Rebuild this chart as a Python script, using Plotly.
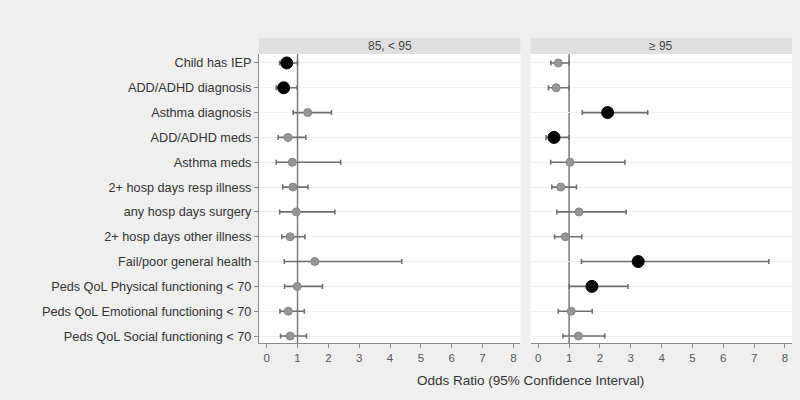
import plotly.graph_objects as go

outcomes = [
    "Child has IEP", "ADD/ADHD diagnosis", "Asthma diagnosis", "ADD/ADHD meds",
    "Asthma meds", "2+ hosp days resp illness", "any hosp days surgery",
    "2+ hosp days other illness", "Fail/poor general health",
    "Peds QoL Physical functioning < 70", "Peds QoL Emotional functioning < 70",
    "Peds QoL Social functioning < 70",
]

# Panel 1: 85, < 95
or_mid = [0.65, 0.55, 1.33, 0.69, 0.83, 0.85, 0.96, 0.76, 1.56, 0.99, 0.70, 0.76]
lo_mid = [0.42, 0.31, 0.86, 0.37, 0.31, 0.52, 0.42, 0.49, 0.57, 0.58, 0.43, 0.45]
hi_mid = [1.00, 0.99, 2.10, 1.27, 2.40, 1.34, 2.21, 1.24, 4.38, 1.81, 1.22, 1.29]
sig_mid = [1, 1, 0, 0, 0, 0, 0, 0, 0, 0, 0, 0]

# Panel 2: >= 95
or_hi = [0.65, 0.58, 2.25, 0.51, 1.03, 0.73, 1.32, 0.88, 3.24, 1.74, 1.07, 1.30]
lo_hi = [0.41, 0.33, 1.43, 0.25, 0.40, 0.44, 0.60, 0.53, 1.40, 1.00, 0.65, 0.80]
hi_hi = [1.00, 1.00, 3.55, 1.00, 2.81, 1.24, 2.85, 1.41, 7.48, 2.91, 1.75, 2.16]
sig_hi = [0, 0, 1, 1, 0, 0, 0, 0, 1, 1, 0, 0]

panel_titles = ["85, < 95", "\u2265 95"]
x_ticks = [0, 1, 2, 3, 4, 5, 6, 7, 8]

FONT = "Liberation Sans, Arial, sans-serif"
fig = go.Figure()

panels = [(or_mid, lo_mid, hi_mid, sig_mid, "x", "y"),
          (or_hi, lo_hi, hi_hi, sig_hi, "x2", "y2")]
for ors, los, his, sigs, xa, ya in panels:
    fig.add_trace(go.Scatter(
        x=ors, y=outcomes, mode="markers", xaxis=xa, yaxis=ya,
        error_x=dict(type="data", symmetric=False,
                     array=[h - o for h, o in zip(his, ors)],
                     arrayminus=[o - l for o, l in zip(ors, los)],
                     color="#6e6e6e", thickness=1.6, width=2.5),
        marker=dict(color=["#000000" if s else "#969696" for s in sigs],
                    size=[12 if s else 8 for s in sigs], opacity=1,
                    line=dict(width=1, color=["#000000" if s else "#858585" for s in sigs])),
        showlegend=False, hoverinfo="x+y"))

d1 = [0.0, 0.4905]
d2 = [0.5095, 1.0]
common_x = dict(range=[-0.25, 8.23], tickvals=x_ticks, showgrid=False, zeroline=False,
                showline=True, linecolor="#8a8a8a", linewidth=1.2,
                ticks="outside", ticklen=4, tickcolor="#8a8a8a",
                tickfont=dict(size=11.5, color="#555555", family=FONT))
common_y = dict(type="category", categoryorder="array", categoryarray=outcomes,
                range=[11.28, -0.36], showgrid=True, gridcolor="#efefef", gridwidth=1,
                zeroline=False)

fig.update_layout(
    width=800, height=400,
    paper_bgcolor="#efefef", plot_bgcolor="#ffffff",
    margin=dict(l=259, r=8, t=54, b=57),
    font=dict(family=FONT, color="#333333"),
    xaxis=dict(domain=d1, anchor="y", **common_x),
    xaxis2=dict(domain=d2, anchor="y2", **common_x),
    yaxis=dict(domain=[0, 1], anchor="x", showline=True, linecolor="#8a8a8a",
               linewidth=1.2, ticks="outside", ticklen=4, tickcolor="#8a8a8a",
               tickfont=dict(size=12.7, color="#333333", family=FONT), **common_y),
    yaxis2=dict(domain=[0, 1], anchor="x2", showline=False, showticklabels=False,
                ticks="", **common_y),
)

shapes = []
for dom, xa in [(d1, "x"), (d2, "x2")]:
    shapes.append(dict(type="rect", xref="paper", yref="paper",
                       x0=dom[0], x1=dom[1], y0=1.0, y1=1.0 + 16 / 289,
                       fillcolor="#e0e0e0", line=dict(width=0), layer="below"))
    shapes.append(dict(type="line", xref=xa, yref="paper", x0=1, x1=1, y0=0, y1=1,
                       line=dict(color="#7a7a7a", width=1.5), layer="below"))
fig.update_layout(shapes=shapes)

ann = []
for dom, title in zip([d1, d2], panel_titles):
    ann.append(dict(text=title, xref="paper", yref="paper",
                    x=(dom[0] + dom[1]) / 2, y=1.0 + 8 / 289, xanchor="center",
                    yanchor="middle", showarrow=False,
                    font=dict(size=12, color="#444444", family=FONT)))
ann.append(dict(text="Odds Ratio (95% Confidence Interval)", xref="paper", yref="paper",
                x=0.51, y=-37 / 289, xanchor="center", yanchor="middle", showarrow=False,
                font=dict(size=13.5, color="#333333", family=FONT)))
fig.update_layout(annotations=ann)

fig.write_html("out.html", config={"displayModeBar": False},
               post_script="document.body.style.margin='0';")
